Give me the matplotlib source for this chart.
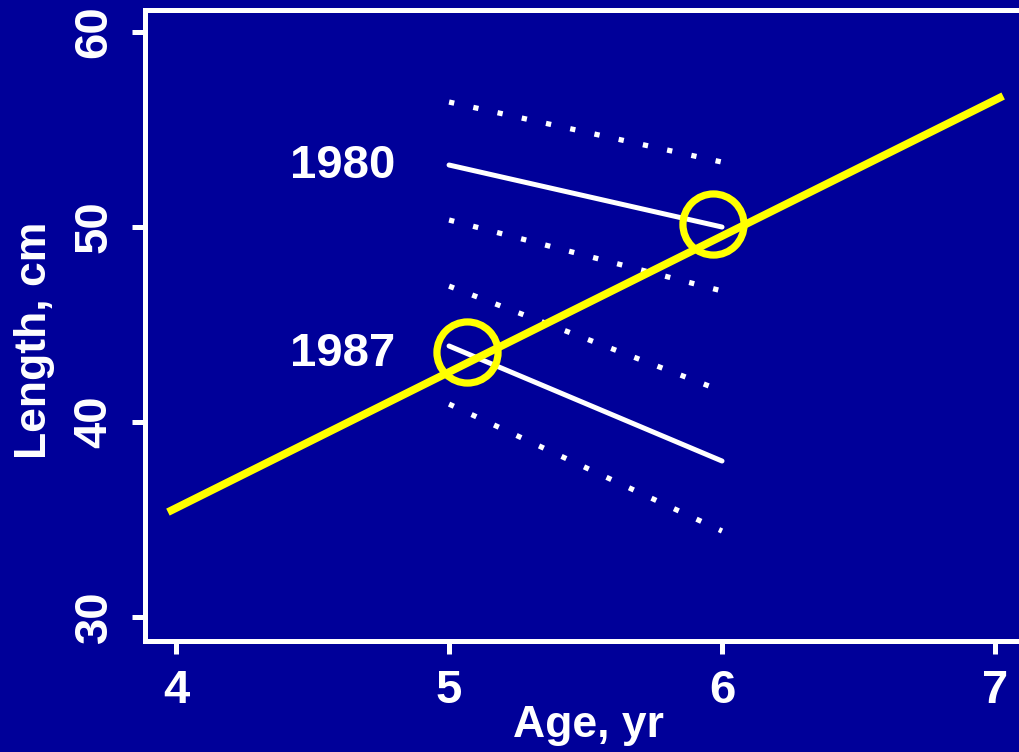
import matplotlib
matplotlib.use("Agg")
import matplotlib.pyplot as plt

# ---- data ----
fit_age = [3.97, 7.03]
fit_len = [35.38, 56.72]

ages = [5, 6]
y1980_mean = [53.18, 50.0]
y1980_hi = [56.41, 53.33]
y1980_lo = [50.36, 46.72]
y1987_mean = [43.9, 38.0]
y1987_hi = [46.97, 41.59]
y1987_lo = [40.92, 34.41]

circle_age = [5.066, 5.967]
circle_len = [43.58, 50.13]

labels = ["1980", "1987"]
label_x = [4.418, 4.418]
label_y = [53.15, 43.48]

xticks = [4, 5, 6, 7]
yticks = [30, 40, 50, 60]

BG = "#000099"
YEL = "#FFFF00"
W = "white"

plt.rcParams['font.family'] = ['Liberation Sans', 'DejaVu Sans']

fig = plt.figure(figsize=(10.2, 7.52), dpi=100, facecolor=BG)
ax = fig.add_axes([145/1020, 1 - 641/752, (1031 - 145)/1020, (641 - 10)/752])
ax.set_facecolor(BG)

ax.set_xlim(3.886, 7.132)
ax.set_ylim(28.77, 61.13)

dot = (0, (1.0, 3.7))
for hi, mean, lo in [(y1980_hi, y1980_mean, y1980_lo), (y1987_hi, y1987_mean, y1987_lo)]:
    ax.plot(ages, mean, color=W, lw=3.6, solid_capstyle='round')
    ax.plot(ages, hi, color=W, lw=3.8, linestyle=dot)
    ax.plot(ages, lo, color=W, lw=3.8, linestyle=dot)

ax.plot(fit_age, fit_len, color=YEL, lw=5.6, solid_capstyle='butt', zorder=5)
ax.plot(circle_age, circle_len, linestyle='none', marker='o', markersize=44,
        markerfacecolor='none', markeredgecolor=YEL, markeredgewidth=5.2, zorder=6)

for t, x, y in zip(labels, label_x, label_y):
    ax.text(x, y, t, color=W, fontsize=34, fontweight='bold', ha='left', va='center')

for s in ['left', 'bottom', 'top', 'right']:
    ax.spines[s].set_color(W)
    ax.spines[s].set_linewidth(3.6)

ax.set_xticks(xticks)
ax.set_yticks(yticks)
ax.set_xticklabels([str(v) for v in xticks])
ax.set_yticklabels([str(v) for v in yticks], rotation=90, va='center')
ax.tick_params(axis='both', colors=W, length=9.5, width=3.6, pad=11,
               labelsize=34, direction='out')
for lab in ax.get_xticklabels() + ax.get_yticklabels():
    lab.set_fontweight('bold')

fig.text(588/1020, 1 - 725/752, "Age, yr", color=W, fontsize=32, fontweight='bold',
         ha='center', va='center')
fig.text(35/1020, 1 - 340/752, "Length, cm", color=W, fontsize=32, fontweight='bold',
         ha='center', va='center', rotation=90)

fig.savefig("out.png", dpi=100, facecolor=BG)
